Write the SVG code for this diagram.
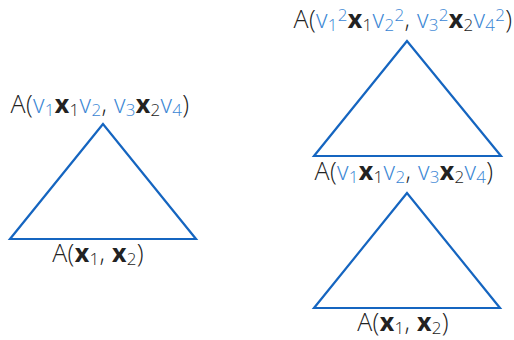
<svg xmlns="http://www.w3.org/2000/svg" width="514" height="340" viewBox="0 0 514 340">
<style>
.tri{fill:none;stroke:#1565c0;stroke-width:2.2;stroke-linejoin:miter}
.lbl{font-family:"Open Sans","Liberation Sans",Arial,sans-serif;font-weight:300;font-size:25px;letter-spacing:0.3px;fill:#222}
.bl{fill:#3a86d4}
.s{font-size:17px}
.x{font-weight:bold}
</style>
<rect width="514" height="340" fill="#fff"/>
<g id="left">
<polygon class="tri" points="103,124 10,239 196,239"/>
<text class="lbl" x="100" y="113" text-anchor="middle">A(<tspan class="bl">v</tspan><tspan class="bl s" dy="3">1</tspan><tspan class="x" dy="-3">x</tspan><tspan class="s" dy="3">1</tspan><tspan class="bl" dy="-3">v</tspan><tspan class="bl s" dy="3">2</tspan><tspan dy="-3">, </tspan><tspan class="bl">v</tspan><tspan class="bl s" dy="3">3</tspan><tspan class="x" dy="-3">x</tspan><tspan class="s" dy="3">2</tspan><tspan class="bl" dy="-3">v</tspan><tspan class="bl s" dy="3">4</tspan><tspan dy="-3">)</tspan></text>
<text class="lbl" x="98" y="262" text-anchor="middle">A(<tspan class="x">x</tspan><tspan class="s" dy="3">1</tspan><tspan dy="-3">, </tspan><tspan class="x">x</tspan><tspan class="s" dy="3">2</tspan><tspan dy="-3">)</tspan></text>
</g>
<g id="top-right">
<polygon class="tri" points="407,41 314,156 501,156"/>
<text class="lbl" x="403" y="28" text-anchor="middle">A(<tspan class="bl">v</tspan><tspan class="bl s" dy="3">1</tspan><tspan class="bl s" dy="-10">2</tspan><tspan class="x" dy="7">x</tspan><tspan class="s" dy="3">1</tspan><tspan class="bl" dy="-3">v</tspan><tspan class="bl s" dy="3">2</tspan><tspan class="bl s" dy="-10">2</tspan><tspan dy="7">, </tspan><tspan class="bl">v</tspan><tspan class="bl s" dy="3">3</tspan><tspan class="bl s" dy="-10">2</tspan><tspan class="x" dy="7">x</tspan><tspan class="s" dy="3">2</tspan><tspan class="bl" dy="-3">v</tspan><tspan class="bl s" dy="3">4</tspan><tspan class="bl s" dy="-10">2</tspan><tspan dy="7">)</tspan></text>
</g>
<g id="bottom-right">
<polygon class="tri" points="407,193 314,308 500,308"/>
<text class="lbl" x="404" y="180" text-anchor="middle">A(<tspan class="bl">v</tspan><tspan class="bl s" dy="3">1</tspan><tspan class="x" dy="-3">x</tspan><tspan class="s" dy="3">1</tspan><tspan class="bl" dy="-3">v</tspan><tspan class="bl s" dy="3">2</tspan><tspan dy="-3">, </tspan><tspan class="bl">v</tspan><tspan class="bl s" dy="3">3</tspan><tspan class="x" dy="-3">x</tspan><tspan class="s" dy="3">2</tspan><tspan class="bl" dy="-3">v</tspan><tspan class="bl s" dy="3">4</tspan><tspan dy="-3">)</tspan></text>
<text class="lbl" x="403" y="331" text-anchor="middle">A(<tspan class="x">x</tspan><tspan class="s" dy="3">1</tspan><tspan dy="-3">, </tspan><tspan class="x">x</tspan><tspan class="s" dy="3">2</tspan><tspan dy="-3">)</tspan></text>
</g>
<g id="connectors"/>
</svg>
